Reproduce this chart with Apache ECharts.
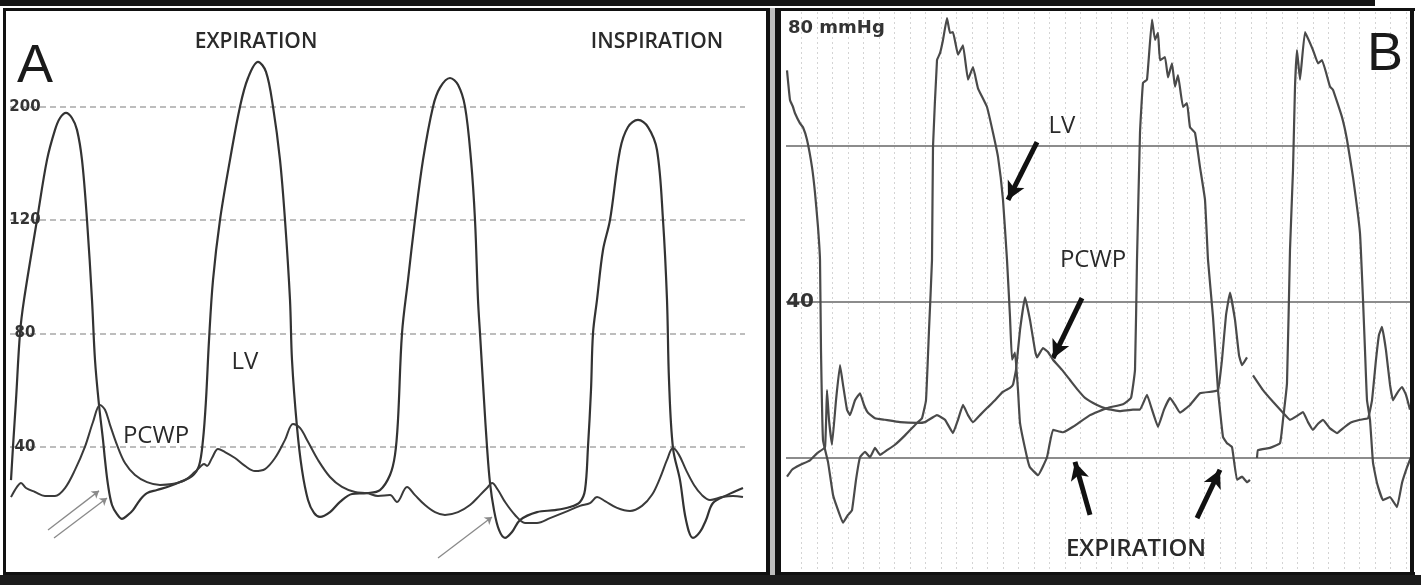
<!DOCTYPE html>
<html>
<head>
<meta charset="utf-8">
<script src="https://cdn.jsdelivr.net/npm/echarts@6/dist/echarts.min.js"></script>
<style>
html,body{margin:0;padding:0;background:#fff;}
#c{width:1421px;height:585px;}
</style>
</head>
<body>
<div id="c"></div>
<script>
// Panel A: time (arbitrary units), pressure (grid steps of 40 units)
const lvA = [[1,28.2],[3,40],[6,56.5],[10,80],[14,91.8],[27,120],[37,141.2],[45,151.8],[50,156],[56,157.8],[62,156],[67,151.8],[72,141.2],[77,120],[82,91.8],[85,70.6],[89,54.7],[93,42.4],[95,35.3],[98,26.5],[102,19.4],[107,16.2],[112,14.5],[118,15.9],[123,17.6],[130,21.2],[137,23.6],[147,24.7],[160,26.1],[170,27.5],[182,29.6],[189,33.2],[193,42.4],[196,56.5],[199,77.5],[203,98.8],[210,120],[220,141.2],[230,160],[238,170.1],[248,175.8],[256,172.3],[263,160],[270,141.2],[275,120],[280,91.8],[282,70.6],[287,46.9],[292,31.8],[298,21.2],[304,16.6],[310,15.2],[320,16.9],[330,20.5],[342,23.3],[357,23.6],[370,24.7],[380,30],[385,37.1],[388,49.4],[392,80],[398,98.8],[405,120],[413,141.2],[423,160],[430,166.7],[440,170.1],[448,167.7],[455,160],[461,141.2],[465,120],[468,91.8],[470,80],[474,56.5],[477,40],[480,27.2],[484,17.6],[489,10.6],[495,7.8],[502,9.9],[510,14.1],[527,16.9],[545,17.6],[560,18.7],[570,20.5],[575,24.7],[578,40],[581,60],[583,80],[587,91.8],[593,109.4],[600,120],[610,144.7],[618,152.8],[628,155.3],[638,152.8],[647,144.7],[653,120],[657,91.8],[659,63.5],[663,39.5],[670,28.2],[676,14.1],[683,7.8],[690,9.9],[696,14.1],[703,20.1],[717,22.9],[733,25.4]];
const pcwpA = [[1,22.2],[7,25.8],[11,27.2],[16,25.4],[25,24],[35,22.6],[45,22.6],[55,25.4],[65,31.8],[75,40],[83,48.7],[90,54.7],[95,53],[100,47.7],[107,40.6],[115,34.2],[125,30],[137,27.5],[150,26.5],[162,26.8],[175,28.2],[185,31.1],[190,32.8],[194,33.9],[197,33.2],[202,36],[208,39.2],[215,38.1],[225,36],[235,33.2],[245,31.4],[255,32.1],[265,36],[275,42.4],[283,48],[290,46.6],[298,41.7],[308,35.3],[320,29.3],[332,25.8],[345,24],[357,23.6],[368,22.6],[380,22.9],[387,20.5],[397,25.8],[405,22.9],[415,19.4],[425,16.9],[435,15.9],[448,16.9],[460,19.4],[470,22.9],[477,25.4],[482,27.2],[488,24.7],[495,20.5],[505,15.9],[515,13.1],[527,13.1],[540,14.8],[555,16.9],[570,19.1],[580,20.1],[587,22.2],[595,20.8],[607,18.4],[620,17.3],[632,19.1],[642,23],[650,28.9],[657,35.3],[663,39.5],[669,37.1],[676,31.8],[684,26.5],[692,22.9],[700,21.2],[712,22.2],[723,22.6],[733,22.2]];
const tickLabelsA = ['', '40', '80', '120', '200', ''];
const arrowsA = [[[38,10.6],[89,24.4]],[[44,7.8],[97,21.9]],[[428,0.7],[482,15.2]]];

// Panel B: time (arbitrary units), pressure mmHg
const lvB = [[1,69.7],[4,65.9],[7,65.0],[9,64.2],[14,62.9],[17,62.4],[21,60.8],[26,57.3],[29,54.0],[32,49.6],[34,45.4],[35,33.8],[37,22.3],[42,19.5],[47,15.3],[51,13.7],[57,11.7],[62,12.7],[66,13.3],[70,17.2],[74,20.1],[79,20.8],[84,20.1],[89,21.3],[94,20.4],[101,21.0],[109,21.7],[119,22.9],[131,24.5],[136,25.1],[140,27.4],[143,36.4],[146,45.4],[147,59.9],[151,71.0],[154,71.9],[157,73.6],[161,76.4],[164,74.5],[167,74.6],[172,71.7],[177,72.9],[182,68.5],[187,70.1],[192,67.4],[201,65.0],[207,61.7],[212,58.6],[217,53.1],[221,45.4],[224,38.1],[226,32.6],[229,33.5],[232,28.7],[234,24.5],[241,20.1],[244,18.8],[252,17.8],[261,20.1],[267,23.6],[277,23.3],[287,24.0],[304,25.5],[321,26.4],[337,26.9],[345,27.7],[349,31.3],[351,45.4],[354,61.7],[357,68.1],[361,68.5],[366,76.2],[369,73.6],[372,74.5],[374,71.0],[379,71.4],[382,68.8],[386,70.6],[389,67.6],[392,69.1],[397,65.0],[401,65.5],[404,62.4],[409,61.7],[414,57.3],[419,53.1],[422,45.4],[427,38.1],[432,28.7],[437,22.7],[441,21.9],[446,21.4],[451,17.2],[456,17.6],[461,16.9],[464,17.2],null,[471,20.0],[472,21.0],[484,21.3],[494,21.9],[497,24.9],[501,29.6],[504,46.7],[507,56.9],[509,67.6],[511,72.3],[514,68.5],[519,74.6],[527,72.3],[532,70.6],[536,71.0],[544,67.6],[547,67.2],[556,63.7],[561,60.8],[567,56.0],[574,48.8],[577,40.3],[579,33.8],[581,27.4],[584,24.9],[587,19.4],[591,16.8],[597,14.6],[604,15.0],[611,13.7],[616,16.8],[621,18.8],[625,20.1]];
const pcwpB = [[1,17.6],[6,18.5],[14,19.1],[24,19.7],[31,20.6],[39,21.4],[41,28.7],[43,24.9],[46,21.7],[50,27.4],[54,31.9],[57,29.4],[61,26.2],[64,25.5],[69,27.4],[74,28.3],[78,26.8],[82,25.8],[89,25.1],[99,24.9],[114,24.6],[131,24.5],[139,24.6],[151,25.5],[159,24.9],[167,23.2],[172,24.9],[177,26.8],[182,25.5],[187,24.6],[194,25.5],[201,26.4],[209,27.4],[217,28.5],[224,29.0],[227,29.4],[230,31.3],[234,36.4],[239,40.6],[244,37.7],[249,33.8],[251,32.9],[257,34.1],[262,33.6],[267,32.6],[276,31.3],[284,30.0],[292,28.7],[299,27.7],[311,26.8],[321,26.3],[334,26.0],[347,26.2],[354,26.2],[361,28.1],[366,26.2],[372,24.0],[378,26.2],[384,27.7],[389,26.8],[394,25.8],[404,26.8],[414,28.3],[426,28.5],[432,28.7],[436,32.6],[440,38.3],[444,41.2],[449,37.7],[453,33.2],[456,31.9],[461,32.9],null,[467,30.6],[477,28.7],[487,27.2],[497,25.8],[504,24.9],[511,25.4],[517,25.9],[522,24.6],[527,23.6],[532,24.4],[537,24.9],[544,23.8],[551,23.2],[557,23.8],[564,24.5],[574,24.9],[582,25.1],[586,27.4],[590,32.6],[593,35.8],[596,36.8],[600,33.8],[604,29.4],[607,27.4],[611,28.3],[616,29.1],[620,28.1],[624,26.2]];
const gridValuesB = [20, 40, 60];
const tickLabelsB = ['', '40', ''];
const arrowsB = [[[251,60.5],[222,53.1]],[[296,40.5],[267,32.8]],[[304,12.7],[289,19.5]],[[411,12.3],[434,18.5]]];

const chart = echarts.init(document.getElementById('c'), null, {renderer:'canvas'});

function arrowData(list){ return list.map(a => [{coord:a[0]},{coord:a[1]}]); }

function txt(text, x, y, font, fill, align){
  return {type:'text', x:x, y:y, z:20, silent:true,
    style:{text:text, font:font, fill:fill||'#2a2a2a', align:align||'center', verticalAlign:'middle', textAlign:align||'center', textVerticalAlign:'middle'}};
}
function rect(x,y,w,h,fill){
  return {type:'rect', shape:{x:x,y:y,width:w,height:h}, style:{fill:fill}, z:15, silent:true};
}

chart.setOption({
  animation:false,
  backgroundColor:'#ffffff',
  grid:[
    {left:10, top:12, width:735, height:548, containLabel:false},
    {left:786, top:12, width:625, height:560, containLabel:false}
  ],
  xAxis:[
    {gridIndex:0, type:'value', min:0, max:735, axisLine:{show:false}, axisTick:{show:false}, axisLabel:{show:false}, splitLine:{show:false}},
    {gridIndex:1, type:'value', min:0, max:625, interval:15.5, axisLine:{show:false}, axisTick:{show:false}, axisLabel:{show:false},
      splitLine:{show:true, showMinLine:false, showMaxLine:false, lineStyle:{color:'#d4d4d4', width:1, type:[2,3]}}}
  ],
  yAxis:[
    {gridIndex:0, type:'value', min:0, max:193.4, interval:40, axisLine:{show:false}, axisTick:{show:false},
      axisLabel:{inside:true, margin:15, align:'center', color:'#333', fontFamily:'DejaVu Sans', fontWeight:'bold', fontSize:15,
        formatter:function(v){ return tickLabelsA[Math.round(v/40)] || ''; }},
      splitLine:{show:true, showMinLine:false, showMaxLine:false, lineStyle:{color:'#a8a8a8', width:1.5, type:[6,4]}}},
    {gridIndex:1, type:'value', min:5.385, max:77.18, axisLine:{show:false}, axisTick:{show:false},
      axisLabel:{show:false}, splitLine:{show:false}}
  ],
  series:[
    {name:'LV A', type:'line', xAxisIndex:0, yAxisIndex:0, data:lvA, smooth:0.35, showSymbol:false, silent:true,
      lineStyle:{color:'#333', width:2.2}, z:5,
      markLine:{silent:true, symbol:['none','arrow'], symbolSize:7, label:{show:false},
        lineStyle:{color:'#8a8a8a', width:1.3, type:'solid'}, data:arrowData(arrowsA)}},
    {name:'PCWP A', type:'line', xAxisIndex:0, yAxisIndex:0, data:pcwpA, smooth:0.35, showSymbol:false, silent:true,
      lineStyle:{color:'#3a3a3a', width:2}, z:5},
    {name:'LV B', type:'line', xAxisIndex:1, yAxisIndex:1, data:lvB, smooth:0.1, connectNulls:false, showSymbol:false, silent:true,
      lineStyle:{color:'#4a4a4a', width:2.2}, z:5,
      markLine:{silent:true, symbol:['none','arrow'], symbolSize:[14,18], label:{show:false},
        lineStyle:{color:'#111', width:5, type:'solid'}, data:arrowData(arrowsB)}},
    {name:'PCWP B', type:'line', xAxisIndex:1, yAxisIndex:1, data:pcwpB, smooth:0.1, connectNulls:false, showSymbol:false, silent:true,
      lineStyle:{color:'#4a4a4a', width:2.2}, z:5,
      markLine:{silent:true, symbol:['none','none'], z:1,
        lineStyle:{color:'#8c8c8c', width:2, type:'solid'},
        label:{show:true, position:'start', distance:-28, color:'#333', fontFamily:'DejaVu Sans', fontWeight:'bold', fontSize:20,
          formatter:function(p){ return tickLabelsB[gridValuesB.indexOf(p.value)] || ''; }},
        data:gridValuesB.map(v => ({yAxis:v}))}}
  ],
  graphic:[
    rect(0,0,1375,6,'#151515'),
    rect(0,575,1421,10,'#1c1c1c'),
    rect(3,8,3,567,'#111'),
    rect(3,8,1412,3,'#111'),
    rect(3,572,1412,3,'#111'),
    rect(766,8,4,567,'#111'),
    rect(770,8,5,567,'#bdbdbd'),
    rect(775,8,6,567,'#111'),
    rect(1410,8,4,567,'#111'),
    txt('A', 35, 67, '54px "Liberation Sans"', '#1a1a1a'),
    txt('EXPIRATION', 256, 42, '600 21px "Open Sans"', '#2a2a2a'),
    txt('INSPIRATION', 657, 42, '600 21px "Open Sans"', '#2a2a2a'),
    txt('LV', 245, 362, '24px "Open Sans"', '#2a2a2a'),
    txt('PCWP', 156, 436, '24px "Open Sans"', '#2a2a2a'),
    txt('B', 1385, 55, '54px "Liberation Sans"', '#1a1a1a'),
    txt('80 mmHg', 788, 28, 'bold 18px "DejaVu Sans"', '#333', 'left'),
    txt('LV', 1062, 126, '24px "Open Sans"', '#2a2a2a'),
    txt('PCWP', 1093, 260, '24px "Open Sans"', '#2a2a2a'),
    txt('EXPIRATION', 1136, 549, '600 24px "Open Sans"', '#2a2a2a')
  ]
});
</script>
</body>
</html>
